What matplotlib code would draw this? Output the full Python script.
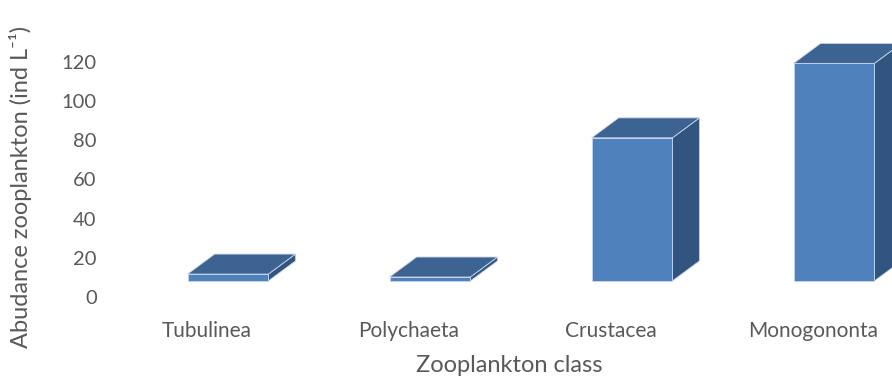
import numpy as np
import matplotlib
matplotlib.use("Agg")
import matplotlib.pyplot as plt
from matplotlib.patches import Polygon

plt.rcParams["font.family"] = ["Lato", "DejaVu Sans"]

classes = ["Tubulinea", "Polychaeta", "Crustacea", "Monogononta"]
abundance = [3.5, 2.0, 73.0, 111.0]
y_ticks = [0, 20, 40, 60, 80, 100, 120]

FRONT = "#4F81BD"
TOP = "#3D6392"
SIDE = "#32557F"
EDGE = "#c9d6ea"
TXT = "#595959"

# 3-D look: bars stand a bit behind the front edge of the floor
LIFT = 8.2        # floor lift in value units
WIDTH = 0.40
DX, DY = 0.134, 10.2   # depth offset of the back face

W, H = 892, 383
fig = plt.figure(figsize=(W / 100, H / 100), dpi=100)
left, right, top, bottom = 105, 892, 20, 315
ax = fig.add_axes([left / W, (H - bottom) / H, (right - left) / W, (bottom - top) / H])
ax.set_xlim((left - 228) / 202, (right - 228) / 202)
ax.set_ylim((297 - bottom) / 1.96, (297 - top) / 1.96)

x = np.arange(len(classes))
ax.bar(x, abundance, bottom=LIFT, width=WIDTH, color=FRONT,
       edgecolor=EDGE, linewidth=0.6, zorder=3, clip_on=False)
for xi, v in zip(x, abundance):
    x0, x1 = xi - WIDTH / 2, xi + WIDTH / 2
    yb, yt = LIFT, LIFT + v
    top_face = [(x0, yt), (x1, yt), (x1 + DX, yt + DY), (x0 + DX, yt + DY)]
    side_face = [(x1, yb), (x1 + DX, yb + DY), (x1 + DX, yt + DY), (x1, yt)]
    ax.add_patch(Polygon(side_face, closed=True, facecolor=SIDE, edgecolor=EDGE,
                         linewidth=0.6, zorder=2, clip_on=False))
    ax.add_patch(Polygon(top_face, closed=True, facecolor=TOP, edgecolor=EDGE,
                         linewidth=0.6, zorder=4, clip_on=False))

# category labels sit along the front edge of the floor, slightly left of the bars
ax.set_xticks(x - 0.105)
ax.set_xticklabels(classes)
ax.set_yticks(y_ticks)
ax.tick_params(length=0, colors=TXT)
ax.tick_params(axis="x", pad=4, labelsize=15)
ax.tick_params(axis="y", pad=6, labelsize=14.5)
for s in ax.spines.values():
    s.set_visible(False)
ax.patch.set_alpha(0)

fig.text(509 / W, (H - 366) / H, "Zooplankton class", ha="center", va="center",
         fontsize=17, color=TXT)
fig.text(21 / W, (H - 348) / H, "Abudance zooplankton (ind L\u207b\u00b9)",
         rotation=90, ha="center", va="bottom", fontsize=17, color=TXT)

fig.savefig("out.png", dpi=100)
